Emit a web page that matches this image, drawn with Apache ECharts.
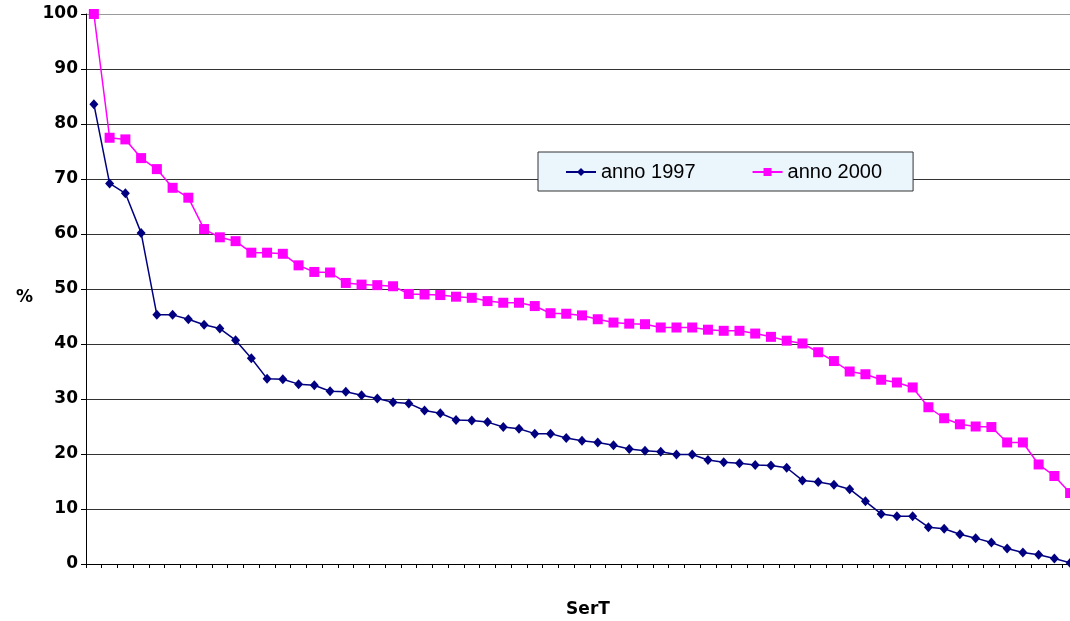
<!DOCTYPE html>
<html>
<head>
<meta charset="utf-8">
<script src="https://cdn.jsdelivr.net/npm/echarts@6/dist/echarts.min.js"></script>
<style>
html,body{margin:0;padding:0;background:#fff;}
#chart{width:1070px;height:621px;}
</style>
</head>
<body>
<div id="chart"></div>
<script>
// Values (percent)
const series1997Name = 'anno 1997';
const series2000Name = 'anno 2000';
const y1997 = [83.6, 69.2, 67.4, 60.2, 45.3, 45.3, 44.5, 43.5, 42.8, 40.7, 37.4, 33.7, 33.6, 32.7, 32.5, 31.4, 31.3, 30.7, 30.1, 29.4, 29.2, 27.9, 27.4, 26.2, 26.1, 25.8, 24.9, 24.6, 23.7, 23.7, 22.9, 22.4, 22.1, 21.6, 20.9, 20.6, 20.4, 19.9, 19.9, 18.9, 18.5, 18.3, 18.0, 17.9, 17.5, 15.2, 14.9, 14.4, 13.6, 11.4, 9.1, 8.7, 8.7, 6.7, 6.4, 5.4, 4.7, 3.9, 2.8, 2.1, 1.7, 1.0, 0.2];
const y2000 = [100, 77.5, 77.2, 73.8, 71.8, 68.4, 66.6, 60.9, 59.4, 58.7, 56.6, 56.6, 56.4, 54.3, 53.1, 53.0, 51.1, 50.8, 50.7, 50.5, 49.1, 49.0, 48.9, 48.6, 48.4, 47.8, 47.5, 47.5, 46.9, 45.6, 45.5, 45.2, 44.5, 43.9, 43.7, 43.6, 43.0, 43.0, 43.0, 42.6, 42.4, 42.4, 41.9, 41.3, 40.6, 40.1, 38.5, 36.9, 35.0, 34.5, 33.5, 33.0, 32.1, 28.5, 26.5, 25.4, 25.0, 24.9, 22.1, 22.1, 18.1, 16.0, 12.9];
const categories = y1997.map((_, i) => String(i + 1));
const xAxisTitle = 'SerT';
const yAxisTitle = '%';

const chart = echarts.init(document.getElementById('chart'), null, {renderer: 'canvas'});
const gridColors = ['#333','#333','#333','#333','#333','#333','#333','#333','#333','#333','#9a9a9a'];
chart.setOption({
  animation: false,
  backgroundColor: '#ffffff',
  grid: {left: 86, right: -8, top: 14, bottom: 57, containLabel: false, outerBoundsMode: 'none'},
  legend: {
    left: 538, top: 152,
    padding: [10, 31, 9, 27],
    itemGap: 56,
    itemWidth: 30, itemHeight: 10,
    backgroundColor: '#eaf5fc',
    borderColor: '#333', borderWidth: 1, borderRadius: 0,
    textStyle: {fontFamily: 'Liberation Sans, Arial, sans-serif', fontSize: 20, color: '#000'},
    data: [series1997Name, series2000Name]
  },
  xAxis: {
    type: 'category',
    data: categories,
    boundaryGap: true,
    name: xAxisTitle,
    nameLocation: 'middle',
    nameGap: 37,
    nameTextStyle: {fontFamily: 'DejaVu Sans, Verdana, sans-serif', fontWeight: 'bold', fontSize: 17, color: '#000', padding: [0, 0, 0, 12]},
    axisLine: {show: true, lineStyle: {color: '#000', width: 1}},
    axisTick: {show: true, interval: 0, length: 4, lineStyle: {color: '#000'}},
    axisLabel: {show: false},
    splitLine: {show: false}
  },
  yAxis: {
    type: 'value',
    min: 0, max: 100, interval: 10,
    name: yAxisTitle,
    nameLocation: 'middle',
    nameRotate: 0,
    nameGap: 53,
    nameTextStyle: {fontFamily: 'DejaVu Sans, Verdana, sans-serif', fontWeight: 'bold', fontSize: 17, color: '#000', verticalAlign: 'top'},
    axisLine: {show: true, lineStyle: {color: '#000', width: 1}},
    axisTick: {show: true, length: 5, lineStyle: {color: '#000'}},
    axisLabel: {margin: 8, fontFamily: 'DejaVu Sans, Verdana, sans-serif', fontWeight: 'bold', fontSize: 17, color: '#000', padding: [5, 0, 0, 0]},
    splitLine: {show: true, lineStyle: {color: gridColors, width: 1.2}}
  },
  series: [
    {
      name: series1997Name,
      type: 'line',
      data: y1997,
      symbol: 'diamond',
      symbolSize: [9, 10],
      showAllSymbol: true,
      clip: false,
      lineStyle: {color: '#000080', width: 1.5},
      itemStyle: {color: '#000080'}
    },
    {
      name: series2000Name,
      type: 'line',
      data: y2000,
      symbol: 'rect',
      symbolSize: 10,
      showAllSymbol: true,
      clip: false,
      lineStyle: {color: '#ff00ff', width: 1.5},
      itemStyle: {color: '#ff00ff'}
    }
  ]
});
</script>
</body>
</html>
